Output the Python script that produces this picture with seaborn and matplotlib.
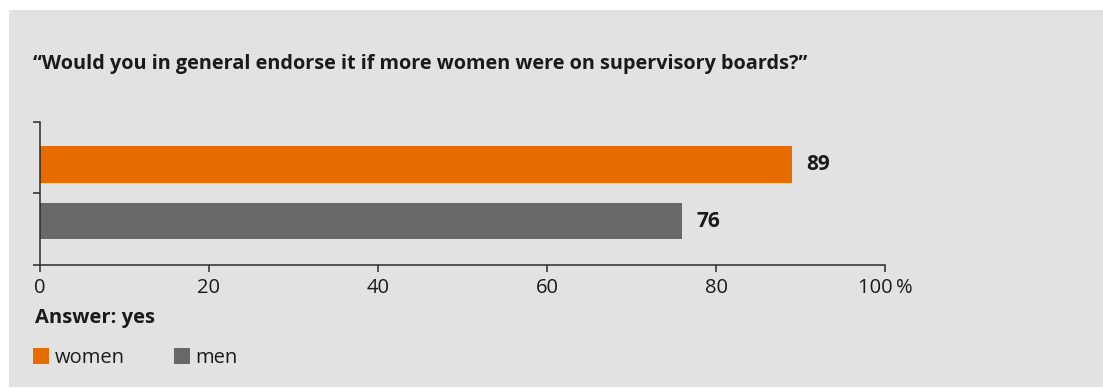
import matplotlib
matplotlib.use("Agg")
import matplotlib.pyplot as plt
from matplotlib.patches import Rectangle, Patch
import seaborn as sns
import pandas as pd

# Survey answers ("yes", in percent)
groups = ["women", "men"]
shares = [89, 76]
x_ticks = [0, 20, 40, 60, 80, 100]
x_tick_labels = ["0", "20", "40", "60", "80", "100\u2009%"]
title = "\u201cWould you in general endorse it if more women were on supervisory boards?\u201d"
subtitle = "Answer: yes"

ORANGE = "#e66c00"
GREY = "#686868"
PANEL = "#e1e2e1"
AXIS = "#2b2b2b"
TEXT = "#1a1a1a"
FS = 14.5

sns.set_theme(style="white")
plt.rcParams["font.family"] = ["Open Sans", "DejaVu Sans"]

W, H = 1103, 388
fig = plt.figure(figsize=(W / 100, H / 100), dpi=100)
fig.patch.set_facecolor("white")
fig.patches.append(Rectangle((9 / W, 1 / H), 1 - 9 / W, (H - 11) / H,
                             transform=fig.transFigure, facecolor=PANEL,
                             edgecolor="none", zorder=-10))

ax = fig.add_axes([40 / W, 1 - 265 / H, 845 / W, 143 / H])
ax.set_facecolor("none")

df = pd.DataFrame({"group": groups, "share": shares})
sns.barplot(data=df, x="share", y="group", hue="group", palette=[ORANGE, GREY],
            width=0.64, saturation=1, legend=False, linewidth=0, ax=ax)

ax.set_xlim(0, 100)
ax.set_ylim(1.77, -0.75)
ax.set_xticks(x_ticks)
ax.set_xticklabels(x_tick_labels)
ax.set_yticks([-0.75, 0.5, 1.77])
ax.set_yticklabels([])
ax.set_xlabel("")
ax.set_ylabel("")
ax.tick_params(axis="both", which="both", direction="out", length=5, width=1.1,
               color=AXIS, left=True, bottom=True)
ax.tick_params(axis="x", labelsize=FS, labelcolor=TEXT, pad=4.5)
for side in ("top", "right"):
    ax.spines[side].set_visible(False)
for side in ("left", "bottom"):
    ax.spines[side].set_color(AXIS)
    ax.spines[side].set_linewidth(1.1)

for container in ax.containers:
    ax.bar_label(container, fmt="%d", padding=10, fontsize=FS + 0.5,
                 fontweight="bold", color=TEXT)

fig.text(33 / W, 1 - 69 / H, title, fontsize=14.3, fontweight="bold",
         color=TEXT, ha="left", va="baseline")
fig.text(35 / W, 1 - 323 / H, subtitle, fontsize=FS, fontweight="bold",
         color=TEXT, ha="left", va="baseline")

handles = [Patch(facecolor=ORANGE, linewidth=0), Patch(facecolor=GREY, linewidth=0)]
fig.legend(handles, groups, loc="center left", bbox_to_anchor=(33 / W, 1 - 358 / H),
           ncol=2, frameon=False, fontsize=FS, handlelength=0.8, handleheight=0.8,
           handletextpad=0.26, columnspacing=2.45, borderpad=0, borderaxespad=0,
           labelcolor=TEXT)

fig.savefig("out.png", dpi=100)
